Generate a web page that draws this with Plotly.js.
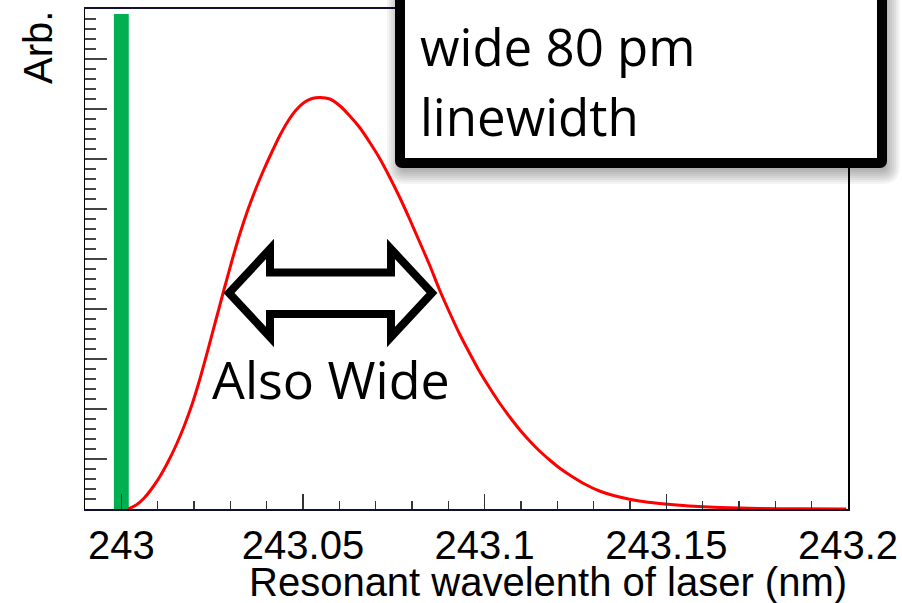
<!DOCTYPE html>
<html>
<head>
<meta charset="utf-8">
<script src="https://cdn.plot.ly/plotly-3.0.1.min.js"></script>
<style>html,body{margin:0;padding:0;background:#fff;}</style>
</head>
<body>
<div id="chart" style="width:902px;height:603px;"></div>
<script>
// Doppler-broadened resonance profile (arbitrary units)
const wavelength = [
  243.0019, 243.0041, 243.0063, 243.0085, 243.0107, 243.0129, 243.0151, 243.0173, 243.0195,
  243.0217, 243.0239, 243.0261, 243.0283, 243.0305, 243.0327, 243.0349, 243.0371, 243.0393,
  243.0415, 243.0437, 243.0459, 243.0481, 243.0503, 243.0525, 243.0547,
  243.0574, 243.0602, 243.0629, 243.0657, 243.0684, 243.0712, 243.0739, 243.0767, 243.0794,
  243.0821, 243.0849, 243.0876, 243.0904, 243.0931, 243.0959, 243.0986, 243.1014, 243.1041,
  243.1069, 243.1096, 243.1124, 243.1151, 243.1179, 243.1206, 243.1234,
  243.1275, 243.1316, 243.1371, 243.1426, 243.1481, 243.1563, 243.1646, 243.1756, 243.1865, 243.1995];
const intensity = [
  0.0, 0.008, 0.022, 0.042, 0.066, 0.095, 0.128, 0.166, 0.21,
  0.262, 0.32, 0.38, 0.44, 0.498, 0.552, 0.60, 0.642, 0.68,
  0.715, 0.748, 0.776, 0.798, 0.813, 0.821, 0.823,
  0.82, 0.806, 0.786, 0.762, 0.733, 0.70, 0.663, 0.622, 0.579,
  0.534, 0.487, 0.438, 0.392, 0.35, 0.311, 0.275, 0.242, 0.212,
  0.184, 0.159, 0.136, 0.116, 0.098, 0.082, 0.068,
  0.05, 0.036, 0.024, 0.016, 0.011, 0.006, 0.003, 0.0012, 0.0004, 0.0];

// Laser line
const laserX = [243.0];
const laserY = [0.99];

// Axis ticks
const tickVals = [243, 243.05, 243.1, 243.15, 243.2];
const tickText = ['243', '243.05', '243.1', '243.15', '243.2'];

// Page geometry (pixels) used to place the callout graphics
const W = 902, H = 603, ML = 85, MR = 54, MT = 9, MB = 94;
const PW = W - ML - MR, PH = H - MT - MB;
const fx = p => (p - ML) / PW;
const fy = p => (H - MB - p) / PH;

function polyPath(pts) {
  return pts.map((p, i) => (i ? 'L' : 'M') + fx(p[0]).toFixed(5) + ',' + fy(p[1]).toFixed(5)).join(' ') + ' Z';
}
function roundRect(x0, y0, x1, y1, r) {
  const P = (x, y) => fx(x).toFixed(5) + ',' + fy(y).toFixed(5);
  return 'M' + P(x0 + r, y0) + ' L' + P(x1 - r, y0) + ' Q' + P(x1, y0) + ' ' + P(x1, y0 + r) +
    ' L' + P(x1, y1 - r) + ' Q' + P(x1, y1) + ' ' + P(x1 - r, y1) +
    ' L' + P(x0 + r, y1) + ' Q' + P(x0, y1) + ' ' + P(x0, y1 - r) +
    ' L' + P(x0, y0 + r) + ' Q' + P(x0, y0) + ' ' + P(x0 + r, y0) + ' Z';
}

const shapes = [];
// soft drop shadow under the text box
for (let k = 0; k < 8; k++) {
  const e = 2 * k;
  shapes.push({
    type: 'path', xref: 'paper', yref: 'paper', layer: 'above',
    path: roundRect(401 - e, -40, 886 + e, 170 + e, 4 + e),
    fillcolor: 'rgba(0,0,0,0.045)', line: {width: 0}
  });
}
// text box
shapes.push({
  type: 'path', xref: 'paper', yref: 'paper', layer: 'above',
  path: roundRect(400, -40, 882, 163, 2),
  fillcolor: '#ffffff', line: {color: '#000000', width: 10}
});
// double-headed width arrow
shapes.push({
  type: 'path', xref: 'paper', yref: 'paper', layer: 'above',
  path: polyPath([[229, 293], [270, 249], [270, 272.5], [391, 272.5], [391, 249], [432, 293],
                  [391, 337], [391, 314], [270, 314], [270, 337]]),
  fillcolor: '#ffffff', line: {color: '#000000', width: 8}
});

const axisFont = {family: 'Liberation Sans, Arial, sans-serif', size: 40, color: '#000'};
const noteFont = {family: 'Open Sans, sans-serif', size: 51, color: '#000'};

const traces = [
  {
    type: 'bar', x: laserX, y: laserY, width: 0.0041,
    marker: {color: '#00B050', line: {width: 0}},
    hoverinfo: 'skip'
  },
  {
    type: 'scatter', mode: 'lines', x: wavelength, y: intensity,
    line: {color: '#ff0000', width: 3, shape: 'spline', smoothing: 0.6},
    hoverinfo: 'skip'
  }
];

const layout = {
  width: W, height: H, autosize: false,
  margin: {l: ML, r: MR, t: MT, b: MB, pad: 0},
  paper_bgcolor: '#ffffff', plot_bgcolor: '#ffffff',
  showlegend: false,
  xaxis: {
    range: [242.99, 243.2], showgrid: false, zeroline: false,
    showline: true, mirror: true, linecolor: '#111133', linewidth: 2,
    ticks: 'inside', ticklen: 15, tickwidth: 1.5, tickcolor: '#333',
    tickvals: tickVals, ticktext: tickText, tickfont: axisFont,
    ticklabelstandoff: 0,
    minor: {dtick: 0.01, tick0: 243, ticks: 'inside', ticklen: 8, tickwidth: 1.5, tickcolor: '#333', showgrid: false}
  },
  yaxis: {
    range: [0, 1], showgrid: false, zeroline: false,
    showline: true, mirror: true, linecolor: '#000', linewidth: 1.5,
    ticks: 'inside', ticklen: 22, tickwidth: 1.5, tickcolor: '#444',
    tick0: 0, dtick: 0.1, showticklabels: false,
    minor: {dtick: 0.02, tick0: 0, ticks: 'inside', ticklen: 11, tickwidth: 1.5, tickcolor: '#444', showgrid: false}
  },
  shapes: shapes,
  annotations: [
    {text: 'Arb.', textangle: -90, xref: 'paper', yref: 'paper', x: fx(37.5), y: fy(9),
     xanchor: 'center', yanchor: 'top', showarrow: false, font: axisFont},
    {text: 'Resonant wavelenth of laser (nm)', xref: 'paper', yref: 'paper', x: fx(849), y: fy(582),
     xanchor: 'right', yanchor: 'middle', showarrow: false, font: axisFont},
    {text: 'wide 80 pm', xref: 'paper', yref: 'paper', x: fx(418), y: fy(46),
     xanchor: 'left', yanchor: 'middle', showarrow: false, font: noteFont},
    {text: 'linewidth', xref: 'paper', yref: 'paper', x: fx(418), y: fy(116),
     xanchor: 'left', yanchor: 'middle', showarrow: false, font: noteFont},
    {text: 'Also Wide', xref: 'paper', yref: 'paper', x: fx(210), y: fy(378),
     xanchor: 'left', yanchor: 'middle', showarrow: false,
     font: {family: 'Open Sans, sans-serif', size: 52, color: '#000'}}
  ]
};

Plotly.newPlot('chart', traces, layout, {staticPlot: true, displayModeBar: false});
</script>
</body>
</html>
